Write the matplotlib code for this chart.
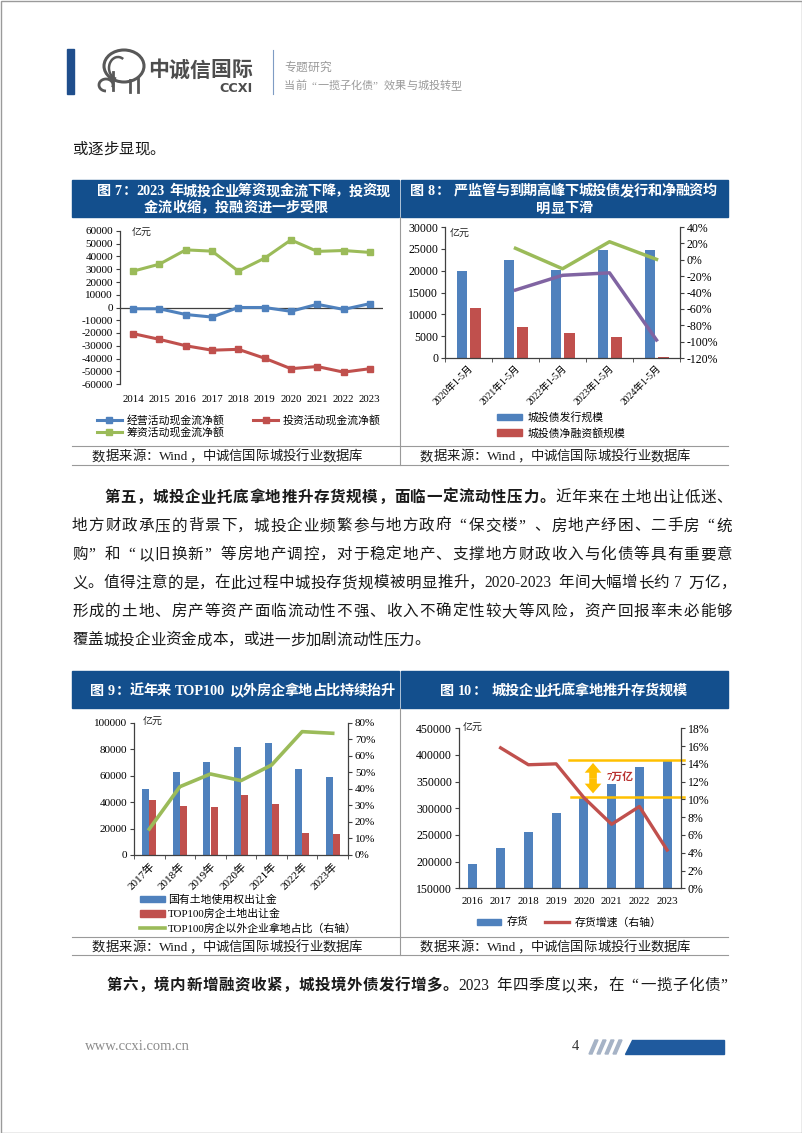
import numpy as np
import matplotlib
matplotlib.use('Agg')
import matplotlib.pyplot as plt
from matplotlib.lines import Line2D
from matplotlib.patches import Rectangle, Polygon, Patch, Ellipse, Arc
from matplotlib.ticker import FuncFormatter

# ---------------- data ----------------
cf_years = ['2014', '2015', '2016', '2017', '2018', '2019', '2020', '2021', '2022', '2023']
cf_operating = [-1000, -1000, -5500, -7500, 0, 0, -3000, 2500, -1500, 3000]
cf_investing = [-20500, -25000, -30000, -33500, -32800, -39800, -48000, -46300, -50700, -48000]
cf_financing = [28500, 34000, 45200, 44200, 28500, 38700, 53000, 44000, 44700, 43200]
cf_labels = ['经营活动现金流净额', '投资活动现金流净额', '筹资活动现金流净额']

bond_periods = ['2020年1-5月', '2021年1-5月', '2022年1-5月', '2023年1-5月', '2024年1-5月']
bond_issuance = [19900, 22400, 20150, 24700, 24700]
bond_net = [11400, 7100, 5700, 4700, 150]
bond_issuance_growth = [np.nan, 14, -11, 22, 0.5]
bond_net_growth = [np.nan, -37, -19, -16, -98]
bond_labels = ['城投债发行规模', '城投债净融资额规模']

land_years = ['2017年', '2018年', '2019年', '2020年', '2021年', '2022年', '2023年']
land_sales = [50000, 62700, 70500, 81900, 84600, 65000, 58700]
top100_land = [41600, 36800, 36000, 45100, 38300, 16400, 15600]
non_top100_share = [15.7, 41.3, 49.0, 45.0, 54.4, 74.6, 73.6]
land_labels = ['国有土地使用权出让金', 'TOP100房企土地出让金', 'TOP100房企以外企业拿地占比（右轴）']

inv_years = ['2016', '2017', '2018', '2019', '2020', '2021', '2022', '2023']
inventory = [195000, 225000, 256000, 292000, 322000, 345600, 376900, 391000]
inventory_growth = [np.nan, 15.8, 13.9, 14.0, 10.2, 7.2, 9.2, 4.3]
inv_labels = ['存货', '存货增速（右轴）']

# ---------------- style ----------------
FAM = ['Liberation Serif', 'Noto Sans CJK SC']
plt.rcParams['font.family'] = FAM
plt.rcParams['axes.unicode_minus'] = False

BLUE = '#4F81BD'
RED = '#C0504D'
GREEN = '#9BBB59'
PURPLE = '#8064A2'
GOLD = '#FFC000'
BAR = '#134F8D'
AX = '#404040'

W, H = 802, 1133
PX = 100 / 72
fig = plt.figure(figsize=(W / 100, H / 100), dpi=100)
bg = fig.add_axes([0, 0, 1, 1])
bg.set_xlim(0, W)
bg.set_ylim(H, 0)
bg.axis('off')
renderer = fig.canvas.get_renderer()


def ax_px(x0, y0, x1, y1):
    return fig.add_axes([x0 / W, 1 - y1 / H, (x1 - x0) / W, (y1 - y0) / H])


def draw_line(segs, x0, yc, size, x1=None, ha='left', color='#1a1a1a', family=FAM):
    em = size * PX
    toks = []
    for s, w in segs:
        buf = ''
        for ch in s:
            if ch == ' ' or ord(ch) >= 0x2E80 or ch in '“”':
                if buf:
                    toks.append((buf, w, None))
                    buf = ''
                toks.append((ch, w, 'sp' if ch == ' ' else 'wide'))
            else:
                buf += ch
        if buf:
            toks.append((buf, w, None))
    widths, arts = [], []
    for t, w, kind in toks:
        if kind == 'sp':
            widths.append(0.3 * em)
            arts.append(None)
            continue
        a = bg.text(0, yc + 0.38 * em, t, fontsize=size, fontweight=w, color=color,
                    family=family, ha='left', va='baseline')
        if kind == 'wide':
            widths.append(em)
        else:
            widths.append(a.get_window_extent(renderer).width + 0.08 * em)
        arts.append(a)
    total = sum(widths)
    gap = (x1 - x0 - total) / (len(toks) - 1) if (x1 is not None and len(toks) > 1) else 0
    x = x0 - total / 2 if ha == 'center' else x0
    for a, wd, (t, w, kind) in zip(arts, widths, toks):
        if a is not None:
            off = 0.45 * em if t == '“' else 0
            a.set_x(x + off)
        x += wd + gap


def style_axes(ax, left=True, right=False):
    ax.spines['top'].set_visible(False)
    ax.spines['right'].set_visible(right)
    ax.spines['left'].set_visible(left)
    for s in ax.spines.values():
        s.set_color(AX)
        s.set_linewidth(0.9)
    ax.set_facecolor('none')


# ---------------- page furniture ----------------
bg.add_patch(Rectangle((0.5, 0.5), W - 1, H - 1, fill=False, edgecolor='#9a9a9a', lw=1))
bg.add_patch(Rectangle((67, 49), 7, 45, color='#1F4E8C'))
# simple elephant-like logo strokes
LOGO = '#585858'
bg.add_patch(Ellipse((124, 66), 40, 32, fill=False, edgecolor=LOGO, lw=2.2))
bg.add_patch(Arc((118, 68), 18, 22, theta1=100, theta2=300, edgecolor=LOGO, lw=1.8))
bg.add_patch(Arc((106, 85), 14, 12, theta1=90, theta2=380, edgecolor=LOGO, lw=2.0))
bg.plot([113, 113], [72, 90], color=LOGO, lw=2.0)
bg.plot([130, 130], [80, 92], color=LOGO, lw=2.0)
bg.plot([138, 138], [78, 92], color=LOGO, lw=2.0)
draw_line([('中诚信国际', 'bold')], 148, 68.5, 15.0, color='#4d4d4d')
bg.text(253, 89, 'CCXI', ha='right', va='center', fontsize=9.2, fontweight='bold',
        family='DejaVu Sans', color='#4d4d4d')
bg.plot([272.5, 272.5], [50, 94], color='#7f9cc4', lw=0.8)
draw_line([('专题研究', 'normal')], 284, 66, 8.5, color='#9a9a9a')
draw_line([('当前“一揽子化债”效果与城投转型', 'normal')], 284, 84.5, 8.0, color='#9a9a9a')

draw_line([('或逐步显现。', 'normal')], 72, 148, 11.2)

# title bars
bg.add_patch(Rectangle((72, 180), 327, 37, color=BAR))
bg.add_patch(Rectangle((401, 180), 327, 37, color=BAR))
bg.add_patch(Rectangle((72, 671), 327, 37, color=BAR))
bg.add_patch(Rectangle((401, 671), 327, 37, color=BAR))
draw_line([('图 7：2023 年城投企业筹资现金流下降，投资现', 'bold')], 97, 190, 10.2, x1=390, color='white')
draw_line([('金流收缩，投融资进一步受限', 'bold')], 236, 206.5, 10.2, ha='center', color='white')
draw_line([('图 8： 严监管与到期高峰下城投债发行和净融资均', 'bold')], 410, 189.5, 10.2, x1=717, color='white')
draw_line([('明显下滑', 'bold')], 564.5, 207, 10.2, ha='center', color='white')
draw_line([('图 9：近年来 TOP100 以外房企拿地占比持续抬升', 'bold')], 90, 689.5, 10.2, x1=395, color='white')
draw_line([('图 10： 城投企业托底拿地推升存货规模', 'bold')], 440, 689.5, 10.2, x1=687, color='white')

# source rows
for ytop, ybot in [(446, 464.5), (937, 955)]:
    bg.plot([72, 728], [ytop, ytop], color='#9a9a9a', lw=0.8)
    bg.plot([72, 728], [ybot, ybot], color='#9a9a9a', lw=0.8)
    draw_line([('数据来源：Wind，中诚信国际城投行业数据库', 'normal')], 92, (ytop + ybot) / 2, 9.6)
    draw_line([('数据来源：Wind，中诚信国际城投行业数据库', 'normal')], 420, (ytop + ybot) / 2, 9.6)
bg.plot([399.5, 399.5], [217, 464.5], color='#9a9a9a', lw=0.8)
bg.plot([399.5, 399.5], [708, 955], color='#9a9a9a', lw=0.8)

# body paragraph
BODY = 11.2
para = [
    ([('第五，城投企业托底拿地推升存货规模，面临一定流动性压力。', 'bold'), ('近年来在土地出让低迷、', 'normal')], 104, 732),
    ([('地方财政承压的背景下，城投企业频繁参与地方政府“保交楼”、房地产纾困、二手房“统', 'normal')], 72, 732),
    ([('购”和“以旧换新”等房地产调控，对于稳定地产、支撑地方财政收入与化债等具有重要意', 'normal')], 72, 732),
    ([('义。值得注意的是，在此过程中城投存货规模被明显推升，2020-2023 年间大幅增长约 7 万亿，', 'normal')], 72, 736),
    ([('形成的土地、房产等资产面临流动性不强、收入不确定性较大等风险，资产回报率未必能够', 'normal')], 72, 732),
    ([('覆盖城投企业资金成本，或进一步加剧流动性压力。', 'normal')], 72, None),
]
for i, (segs, x0, x1) in enumerate(para):
    draw_line(segs, x0, 496 + 28.5 * i, BODY, x1=x1)
draw_line([('第六，境内新增融资收紧，城投境外债发行增多。', 'bold'), ('2023 年四季度以来，在“一揽子化债”', 'normal')],
          106, 984, BODY, x1=736)

# footer
bg.text(85, 1047, 'www.ccxi.com.cn', family='Liberation Serif', fontsize=10.5, color='#8c8c8c', va='center')
bg.text(572, 1047, '4', family='Liberation Serif', fontsize=10.5, color='#333333', va='center')
for i in range(4):
    x = 589 + i * 8
    bg.add_patch(Polygon([(x + 6, 1040), (x + 9, 1040), (x + 3, 1054), (x, 1054)], color='#a6b3c6'))
bg.add_patch(Polygon([(632, 1040), (724, 1040), (724, 1054), (625, 1054)], color='#1F5A9E'))

# ---------------- Figure 7 ----------------
ax7 = ax_px(120, 231, 383, 384)
style_axes(ax7)
ax7.spines['bottom'].set_visible(False)
x = np.arange(len(cf_years))
ax7.axhline(0, color=AX, lw=0.9, zorder=1)
ax7.plot(x, cf_operating, color=BLUE, lw=2.2, marker='s', ms=4.5, zorder=3)
ax7.plot(x, cf_investing, color=RED, lw=2.2, marker='s', ms=4.5, zorder=3)
ax7.plot(x, cf_financing, color=GREEN, lw=2.2, marker='s', ms=4.5, zorder=3)
ax7.set_xlim(-0.5, len(cf_years) - 0.5)
ax7.set_ylim(-60000, 60000)
ax7.set_yticks(np.arange(-60000, 60001, 10000))
ax7.yaxis.set_major_formatter(FuncFormatter(lambda v, p: f'{v:.0f}'))
ax7.set_xticks(x, cf_years)
ax7.tick_params(axis='x', length=0, pad=8, labelsize=7.8)
ax7.tick_params(axis='y', direction='out', length=3, labelsize=8, pad=2, color=AX)
bg.text(132, 232, '亿元', fontsize=7.2, va='center', color='#222222', family=FAM)
h7 = [Line2D([], [], color=BLUE, lw=2.2, marker='s', ms=4.5),
      Line2D([], [], color=GREEN, lw=2.2, marker='s', ms=4.5),
      Line2D([], [], color=RED, lw=2.2, marker='s', ms=4.5)]
fig.legend(h7, [cf_labels[0], cf_labels[2], cf_labels[1]], loc='upper left',
           bbox_to_anchor=(97 / W, 1 - 415 / H), ncol=2, frameon=False, fontsize=7.8,
           handlelength=2.3, handletextpad=0.4, columnspacing=2.7, labelspacing=0.1,
           borderpad=0, borderaxespad=0)

# ---------------- Figure 8 ----------------
ax8 = ax_px(445, 227, 680, 358)
style_axes(ax8)
xb = np.arange(len(bond_periods))
ax8.bar(xb - 0.14, bond_issuance, 0.225, color=BLUE, zorder=2)
ax8.bar(xb + 0.145, bond_net, 0.225, color=RED, zorder=2)
ax8.set_xlim(-0.5, len(bond_periods) - 0.5)
ax8.set_ylim(0, 30000)
ax8.set_yticks(np.arange(0, 30001, 5000))
ax8.set_xticks(xb, bond_periods, rotation=45, ha='right', rotation_mode='anchor')
ax8.set_xticks(np.arange(-0.5, len(bond_periods)), minor=True)
ax8.tick_params(axis='x', which='major', length=0, pad=4, labelsize=7)
ax8.tick_params(axis='x', which='minor', length=3, direction='out', color=AX)
ax8.tick_params(axis='y', direction='out', length=3, labelsize=8.5, pad=2, color=AX)
ax8r = ax8.twinx()
style_axes(ax8r, left=False, right=True)
ax8r.spines['bottom'].set_visible(False)
ax8r.plot(xb, bond_issuance_growth, color=GREEN, lw=2.5, zorder=3)
ax8r.plot(xb, bond_net_growth, color=PURPLE, lw=2.5, zorder=3)
ax8r.set_ylim(-120, 40)
ax8r.set_yticks(np.arange(-120, 41, 20))
ax8r.yaxis.set_major_formatter(FuncFormatter(lambda v, p: f'{v:.0f}%'))
ax8r.tick_params(axis='y', direction='out', length=3, labelsize=8.5, pad=2, color=AX)
bg.text(450, 233, '亿元', fontsize=7.2, va='center', color='#222222', family=FAM)
fig.legend([Patch(color=BLUE), Patch(color=RED)], bond_labels, loc='upper left',
           bbox_to_anchor=(497 / W, 1 - 412 / H), ncol=1, frameon=False, fontsize=7.8,
           handlelength=2.3, handleheight=0.55, handletextpad=0.5, labelspacing=0.45,
           borderpad=0, borderaxespad=0)

# ---------------- Figure 9 ----------------
ax9 = ax_px(134, 722.7, 348, 855)
style_axes(ax9)
xl = np.arange(len(land_years))
ax9.bar(xl - 0.115, land_sales, 0.23, color=BLUE, zorder=2)
ax9.bar(xl + 0.12, top100_land, 0.23, color=RED, zorder=2)
ax9.set_xlim(-0.5, len(land_years) - 0.5)
ax9.set_ylim(0, 100000)
ax9.set_yticks(np.arange(0, 100001, 20000))
ax9.set_xticks(xl, land_years, rotation=45, ha='right', rotation_mode='anchor')
ax9.set_xticks(np.arange(-0.5, len(land_years)), minor=True)
ax9.tick_params(axis='x', which='major', length=0, pad=4, labelsize=8)
ax9.tick_params(axis='x', which='minor', length=3, direction='out', color=AX)
ax9.tick_params(axis='y', direction='out', length=3, labelsize=8, pad=2, color=AX)
ax9r = ax9.twinx()
style_axes(ax9r, left=False, right=True)
ax9r.spines['bottom'].set_visible(False)
ax9r.plot(xl, non_top100_share, color=GREEN, lw=2.6, zorder=3)
ax9r.set_ylim(0, 80)
ax9r.set_yticks(np.arange(0, 81, 10))
ax9r.yaxis.set_major_formatter(FuncFormatter(lambda v, p: f'{v:.0f}%'))
ax9r.tick_params(axis='y', direction='out', length=3, labelsize=8, pad=2, color=AX)
bg.text(143, 721, '亿元', fontsize=7.2, va='center', color='#222222', family=FAM)
fig.legend([Patch(color=BLUE), Patch(color=RED), Line2D([], [], color=GREEN, lw=2.6)],
           land_labels, loc='upper left', bbox_to_anchor=(140 / W, 1 - 894.5 / H), ncol=1,
           frameon=False, fontsize=7.8, handlelength=2.3, handleheight=0.55,
           handletextpad=0.3, labelspacing=0.38, borderpad=0, borderaxespad=0)

# ---------------- Figure 10 ----------------
ax10 = ax_px(459, 728.3, 681, 888.3)
style_axes(ax10)
xi = np.arange(len(inv_years))
ax10.bar(xi, inventory, 0.33, color=BLUE, zorder=2)
ax10.set_xlim(-0.5, len(inv_years) - 0.5)
ax10.set_ylim(150000, 450000)
ax10.set_yticks(np.arange(150000, 450001, 50000))
ax10.set_xticks(xi, inv_years)
ax10.tick_params(axis='x', length=0, pad=6, labelsize=7.8)
ax10.tick_params(axis='y', direction='out', length=3, labelsize=8.5, pad=2, color=AX)
ax10.plot([3.45, 7.62], [inventory[-1], inventory[-1]], color=GOLD, lw=1.8, zorder=4, clip_on=False)
ax10.plot([3.55, 7.62], [inventory[4], inventory[4]], color=GOLD, lw=1.8, zorder=4, clip_on=False)
mid = (inventory[-1] + inventory[4]) / 2
astyle = dict(arrowstyle='simple,head_width=1.2,head_length=0.7,tail_width=0.55',
              color=GOLD, lw=0, shrinkA=0, shrinkB=0)
ax10.annotate('', xy=(4.33, inventory[-1] - 6000), xytext=(4.33, mid), arrowprops=astyle, zorder=5)
ax10.annotate('', xy=(4.33, inventory[4] + 6000), xytext=(4.33, mid), arrowprops=astyle, zorder=5)
ax10.text(4.82, mid + 1500, '7万亿', color='#B8312F', fontsize=7.8, fontweight='bold', va='center', zorder=6)
ax10r = ax10.twinx()
style_axes(ax10r, left=False, right=True)
ax10r.spines['bottom'].set_visible(False)
ax10r.plot(xi, inventory_growth, color=RED, lw=2.4, zorder=3)
ax10r.set_ylim(0, 18)
ax10r.set_yticks(np.arange(0, 19, 2))
ax10r.yaxis.set_major_formatter(FuncFormatter(lambda v, p: f'{v:.0f}%'))
ax10r.tick_params(axis='y', direction='out', length=3, labelsize=8.5, pad=2, color=AX)
bg.text(463, 727, '亿元', fontsize=7.2, va='center', color='#222222', family=FAM)
fig.legend([Patch(color=BLUE), Line2D([], [], color=RED, lw=2.4)], inv_labels, loc='upper left',
           bbox_to_anchor=(477 / W, 1 - 917 / H), ncol=2, frameon=False, fontsize=7.8,
           handlelength=2.2, handleheight=0.5, handletextpad=0.5, columnspacing=1.6,
           borderpad=0, borderaxespad=0)

fig.savefig('out.png', dpi=100, facecolor='white')
